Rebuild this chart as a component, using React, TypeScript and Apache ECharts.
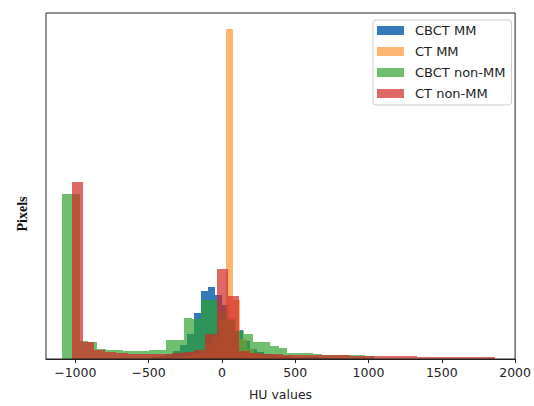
import React, { useEffect, useRef } from "react";
import * as echarts from "echarts";

// Axis ticks
const X_TICKS = [-1000, -500, 0, 500, 1000, 1500, 2000];
const X_MIN = -1200;
const X_MAX = 2000;
const Y_MAX = 353;

// Histogram bins: first edge (HU), bin width (HU), heights (relative pixel counts)
const CBCT_MM_START = -475;
const CBCT_MM_WIDTH = 47.5;
const CBCT_MM = [2, 3, 5, 8, 14, 26, 47, 69, 73, 65, 55, 42, 30, 18, 10, 7, 5, 4, 3, 3, 2, 2, 2, 2, 1, 1];

const CT_MM_START = -347;
const CT_MM_WIDTH = 47;
const CT_MM = [1, 2, 3, 5, 8, 14, 22, 40, 337, 60, 20, 10, 6, 4, 3, 3, 2, 2, 2, 2, 1, 1];

const CBCT_NON_START = -1088;
const CBCT_NON_WIDTH = 59;
const CBCT_NON = [168, 168, 18, 17, 10, 9, 9, 8, 8, 8, 9, 9, 19, 19, 42, 41, 60, 60, 49, 40, 29, 26, 17, 17, 13, 11, 6, 6, 6, 5, 4, 4, 4, 4, 4, 3];

const CT_NON_START = -1024;
const CT_NON_WIDTH = 76;
const CT_NON = [181, 17, 9, 7, 6, 5, 5, 5, 5, 6, 7, 9, 26, 92, 64, 8, 6, 5, 5, 4, 4, 4, 4, 4, 4, 3, 3, 3, 3, 3, 3, 2, 2, 2, 2, 2, 2, 2];

const NAMES = ["CBCT MM", "CT MM", "CBCT non-MM", "CT non-MM"];
const COLORS = [
  "rgba(31,108,176,0.9)",
  "rgba(255,158,70,0.75)",
  "rgba(44,160,44,0.68)",
  "rgba(210,40,38,0.7)",
];

function bins(start: number, width: number, heights: number[]) {
  return heights.map((h, i) => [start + i * width, start + (i + 1) * width, h]);
}

const fmt = (v: number) => (v < 0 ? "\u2212" + Math.abs(v) : String(v));

export default function App() {
  const ref = useRef<HTMLDivElement>(null);
  useEffect(() => {
    if (!ref.current) return;
    const chart = echarts.init(ref.current, null, { renderer: "svg" });
    const datasets = [
      bins(CBCT_MM_START, CBCT_MM_WIDTH, CBCT_MM),
      bins(CT_MM_START, CT_MM_WIDTH, CT_MM),
      bins(CBCT_NON_START, CBCT_NON_WIDTH, CBCT_NON),
      bins(CT_NON_START, CT_NON_WIDTH, CT_NON),
    ];
    const series = datasets.map((data, si) => ({
      type: "custom",
      name: NAMES[si],
      data,
      encode: { x: [0, 1], y: 2 },
      itemStyle: { color: COLORS[si] },
      renderItem: (params: any, api: any) => {
        const p0 = api.coord([api.value(0), api.value(2)]);
        const p1 = api.coord([api.value(1), 0]);
        const x0 = Math.round(p0[0]);
        const x1 = Math.round(p1[0]);
        const y0 = Math.round(p0[1]);
        const y1 = Math.round(p1[1]);
        return {
          type: "rect",
          shape: { x: x0, y: y0, width: x1 - x0, height: y1 - y0 },
          style: { fill: COLORS[si] },
        };
      },
      z: 2 + si,
    }));
    chart.setOption({
      animation: false,
      backgroundColor: "#fff",
      grid: {
        left: 46,
        right: 16,
        top: 13,
        bottom: 40,
        show: true,
        borderColor: "#222",
        borderWidth: 1,
        backgroundColor: "transparent",
        z: 10,
      },
      legend: {
        data: NAMES.map((n, i) => ({ name: n, itemStyle: { color: COLORS[i] } })),
        orient: "vertical",
        left: 373,
        top: 20,
        itemWidth: 27,
        itemHeight: 9,
        itemGap: 8,
        icon: "rect",
        padding: [4, 6, 5, 4],
        borderColor: "#ccc",
        borderWidth: 1,
        borderRadius: 3,
        backgroundColor: "rgba(255,255,255,0.8)",
        selectedMode: false,
        textStyle: {
          fontFamily: "DejaVu Sans",
          fontSize: 13,
          color: "#222",
          padding: [0, 0, 0, 6],
        },
      },
      xAxis: {
        type: "value",
        min: X_MIN,
        max: X_MAX,
        name: "HU values",
        nameLocation: "middle",
        nameGap: 29,
        nameTextStyle: { fontFamily: "DejaVu Sans", fontSize: 12.5, color: "#222" },
        axisLine: { show: true, lineStyle: { color: "#222", width: 1 } },
        axisTick: {
          show: true,
          length: 4,
          lineStyle: { color: "#222" },
          customValues: X_TICKS,
        },
        axisLabel: {
          show: true,
          margin: 7,
          fontFamily: "DejaVu Sans",
          fontSize: 12.5,
          color: "#222",
          customValues: X_TICKS,
          formatter: (v: number) => fmt(v),
        },
        splitLine: { show: false },
      },
      yAxis: {
        type: "value",
        min: 0,
        max: Y_MAX,
        axisLine: { show: false },
        axisTick: { show: false },
        axisLabel: { show: false },
        splitLine: { show: false },
      },
      graphic: [
        {
          type: "text",
          x: 22,
          y: 214,
          rotation: Math.PI / 2,
          style: {
            text: "Pixels",
            fontFamily: "Liberation Serif",
            fontWeight: "bold",
            fontSize: 14,
            fill: "#111",
            align: "center",
            verticalAlign: "middle",
          },
        },
      ],
      series,
    });
    return () => chart.dispose();
  }, []);
  return (
    <div
      ref={ref}
      style={{ position: "fixed", left: 0, top: 0, width: 534, height: 406 }}
    />
  );
}
